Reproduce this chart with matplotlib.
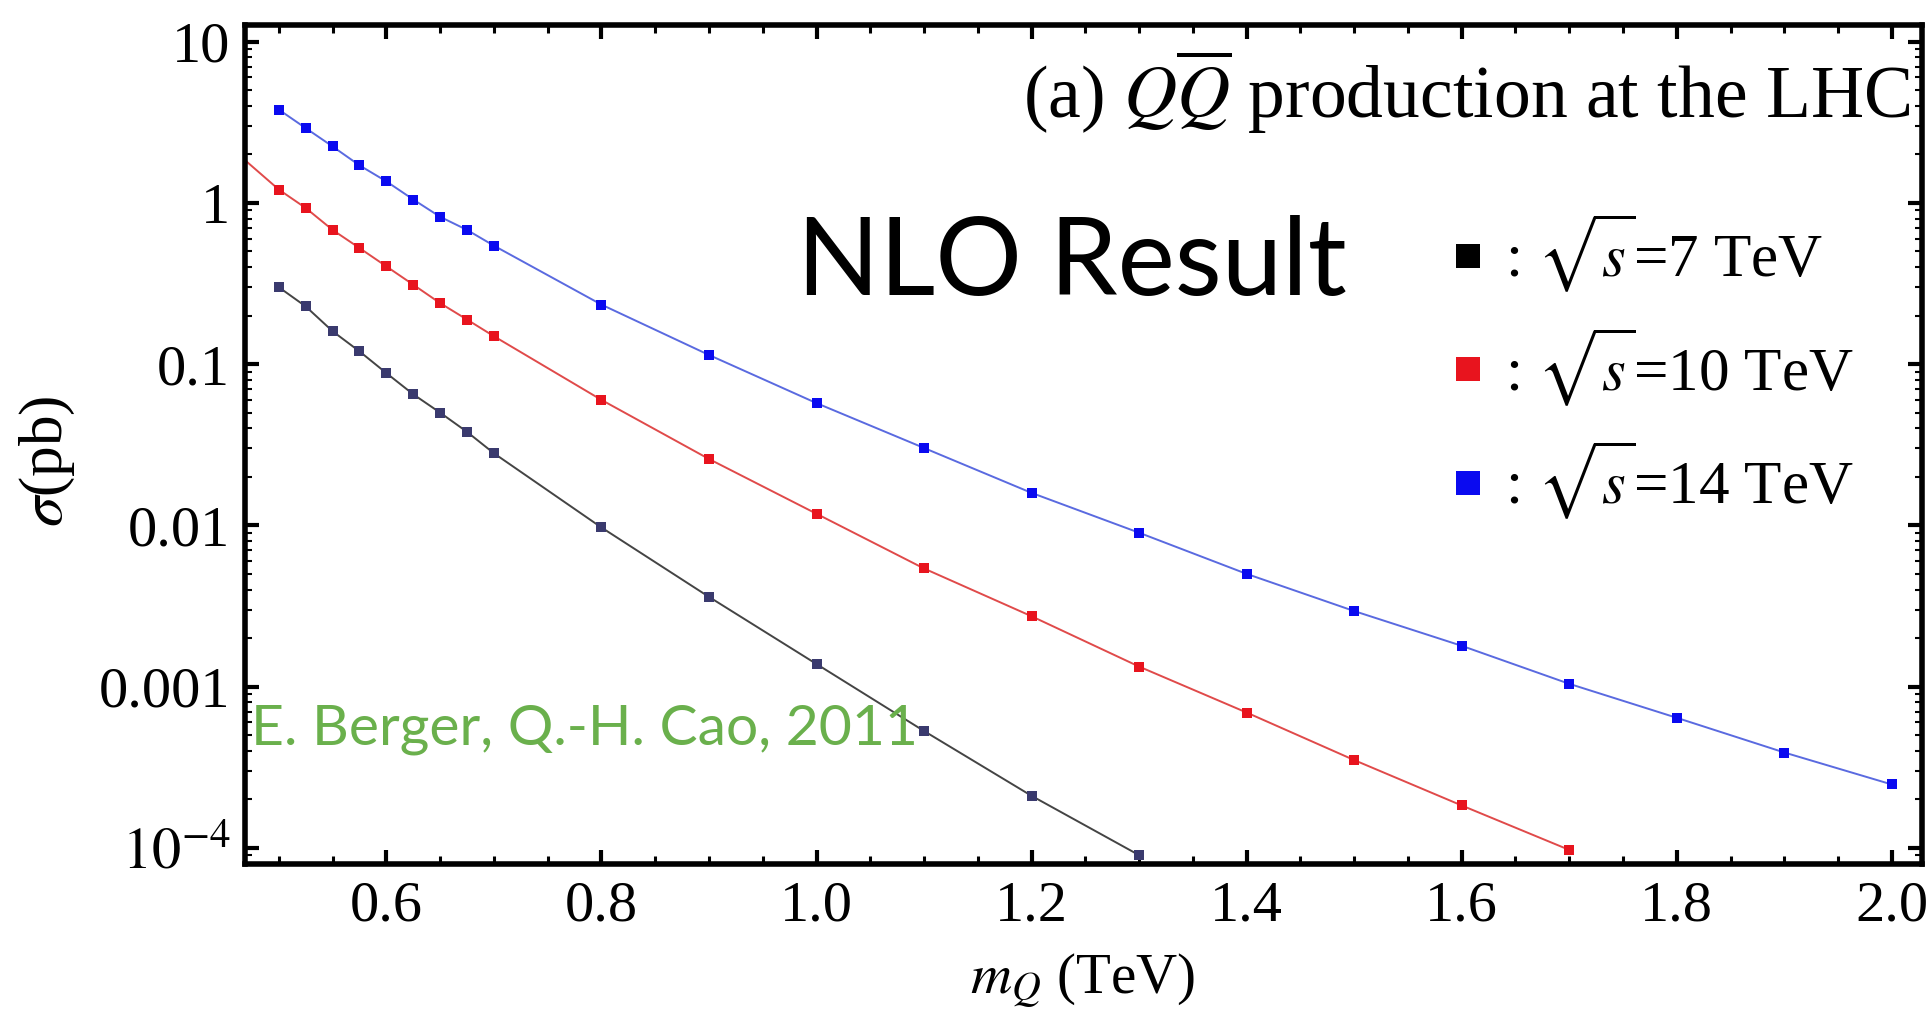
import matplotlib
matplotlib.use("Agg")
import matplotlib.pyplot as plt
from matplotlib.lines import Line2D

plt.rcParams['font.family'] = ['Liberation Serif', 'DejaVu Serif']
plt.rcParams['mathtext.fontset'] = 'stix'

# quark mass points (TeV)
m_7 = [0.5, 0.525, 0.55, 0.575, 0.6, 0.625, 0.65, 0.675, 0.7,
       0.8, 0.9, 1.0, 1.1, 1.2, 1.3]
m_10 = [0.5, 0.525, 0.55, 0.575, 0.6, 0.625, 0.65, 0.675, 0.7,
        0.8, 0.9, 1.0, 1.1, 1.2, 1.3, 1.4, 1.5, 1.6, 1.7]
m_14 = [0.5, 0.525, 0.55, 0.575, 0.6, 0.625, 0.65, 0.675, 0.7,
        0.8, 0.9, 1.0, 1.1, 1.2, 1.3, 1.4, 1.5, 1.6, 1.7, 1.8, 1.9, 2.0]

# NLO cross sections (pb)
sigma_7 = [0.30, 0.228, 0.160, 0.120, 0.088, 0.065, 0.050, 0.038, 0.028,
           0.0097, 0.0036, 0.00138, 0.00053, 0.00021, 0.00009]
sigma_10 = [1.21, 0.93, 0.68, 0.525, 0.404, 0.311, 0.239, 0.189, 0.149,
            0.060, 0.0258, 0.0118, 0.0054, 0.00273, 0.00133, 0.00069,
            0.00035, 0.000183, 0.000097]
sigma_14 = [3.79, 2.91, 2.24, 1.71, 1.36, 1.05, 0.82, 0.68, 0.543,
            0.234, 0.114, 0.0573, 0.0302, 0.0159, 0.0090, 0.0050,
            0.00294, 0.00179, 0.00104, 0.00064, 0.00039, 0.000247]

# red curve runs on to the left edge of the frame
red_edge_m = [0.469]
red_edge_sigma = [1.83]

labels = [r": $\sqrt{s}$=7 TeV", r": $\sqrt{s}$=10 TeV", r": $\sqrt{s}$=14 TeV"]
ytick_vals = [1e-4, 1e-3, 1e-2, 1e-1, 1, 10]
ytick_labels = [r"$10^{-4}$", "0.001", "0.01", "0.1", "1", "10"]
xtick_vals = [0.6, 0.8, 1.0, 1.2, 1.4, 1.6, 1.8, 2.0]

fig = plt.figure(figsize=(19.33, 10.15), dpi=100)
ax = fig.add_axes([0.127, 0.149, 0.8673, 0.8264])

ax.plot(m_7, sigma_7, color='#444444', lw=1.4, zorder=2)
ax.plot(red_edge_m + m_10, red_edge_sigma + sigma_10, color='#e04a4a', lw=1.4, zorder=2)
ax.plot(m_14, sigma_14, color='#5a6ae0', lw=1.4, zorder=2)

ax.plot(m_7, sigma_7, 's', color='#3a3a6e', ms=7.5, mew=0, zorder=3)
ax.plot(m_10, sigma_10, 's', color='#e8141e', ms=7.5, mew=0, zorder=3)
ax.plot(m_14, sigma_14, 's', color='#0a0af0', ms=7.5, mew=0, zorder=3)

ax.set_yscale('log')
ax.set_xlim(0.469, 2.028)
ax.set_ylim(7.96e-5, 12.7)

ax.set_yticks(ytick_vals)
ax.set_yticklabels(ytick_labels)
ax.set_xticks(xtick_vals)
ax.set_xticklabels(["%.1f" % v for v in xtick_vals])
ax.set_xticks([v / 100 for v in range(50, 205, 5)], minor=True)

for s in ax.spines.values():
    s.set_linewidth(4.0)
ax.tick_params(which='both', direction='in', top=True, right=True)
ax.tick_params(which='major', length=10, width=3, labelsize=42)
ax.tick_params(axis='x', which='major', pad=12)
ax.tick_params(axis='y', which='major', pad=11)
ax.tick_params(which='minor', length=6, width=2.2)
ax.tick_params(axis='y', which='minor', length=5, width=1.5)

ax.set_xlabel(r"$m_Q$ (TeV)", fontsize=41)
ax.xaxis.set_label_coords(0.4995, -0.105)
ax.set_ylabel(r"$\sigma$(pb)", fontsize=44)
ax.yaxis.set_label_coords(-0.1005, 0.48)

ax.text(0.993, 0.889, r"(a) $Q\overline{Q}$ production at the LHC",
        transform=ax.transAxes, ha='right', va='baseline', fontsize=53)
ax.text(0.329, 0.678, "NLO Result", transform=ax.transAxes, ha='left',
        va='baseline', fontsize=78, family='Lato')
ax.text(0.003, 0.142, "E. Berger, Q.-H. Cao, 2011", transform=ax.transAxes,
        ha='left', va='baseline', fontsize=41, family='Lato', color='#6ab04c')

handles = [Line2D([], [], ls='none', marker='s', ms=17, mew=0, color=c)
           for c in ['black', '#e8141e', '#0a0af0']]
ax.legend(handles, labels, loc='upper left', bbox_to_anchor=(0.700, 0.814),
          frameon=False, fontsize=44, handlelength=0.6, handletextpad=0.3,
          labelspacing=0.5, borderpad=0)

fig.savefig("out.png", dpi=100)
